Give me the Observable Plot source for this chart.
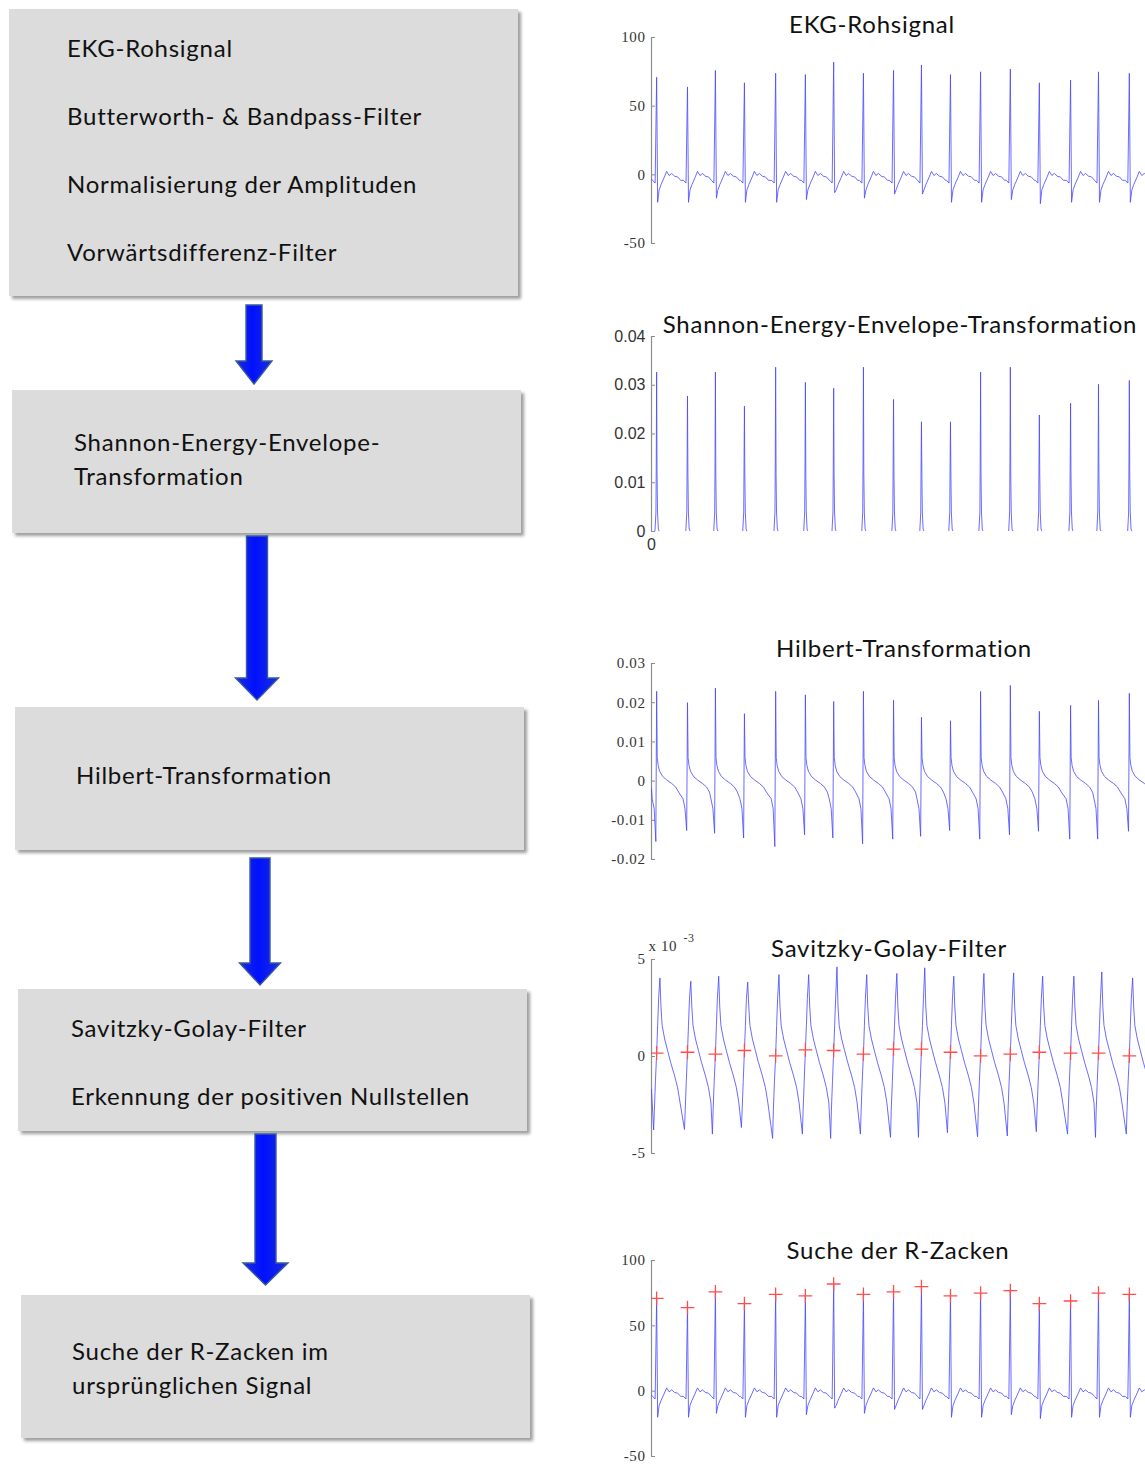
<!DOCTYPE html>
<html>
<head>
<meta charset="utf-8">
<script src="https://cdn.jsdelivr.net/npm/d3@7"></script>
<script src="https://cdn.jsdelivr.net/npm/@observablehq/plot@0.6"></script>
<style>
  html, body { margin: 0; padding: 0; background: #fff; }
  #page { position: relative; width: 1145px; height: 1466px; overflow: hidden; font-family: Lato, "Open Sans", sans-serif; }
  .box { position: absolute; background: #dcdcdc; box-shadow: 3px 3px 3px rgba(0,0,0,0.38); }
  .btxt { position: absolute; font-size: 24px; letter-spacing: 0.75px; color: #111; white-space: nowrap; line-height: 1; transform: translateY(-50%); }
  .title { position: absolute; font-size: 24px; letter-spacing: 0.75px; color: #111; white-space: nowrap; line-height: 1; transform: translate(-50%, -50%); z-index: 3; }
  .chart { position: absolute; left: 590px; }
  .serif text { letter-spacing: 0.6px; }
</style>
</head>
<body>
<div id="page"></div>
<script>
// ---------------- DATA ----------------
const boxLines = [
  ["EKG-Rohsignal", "Butterworth- & Bandpass-Filter", "Normalisierung der Amplituden", "Vorwärtsdifferenz-Filter"],
  ["Shannon-Energy-Envelope-", "Transformation"],
  ["Hilbert-Transformation"],
  ["Savitzky-Golay-Filter", "Erkennung der positiven Nullstellen"],
  ["Suche der R-Zacken im", "ursprünglichen Signal"]
];
const chartTitles = ["EKG-Rohsignal", "Shannon-Energy-Envelope-Transformation", "Hilbert-Transformation", "Savitzky-Golay-Filter", "Suche der R-Zacken"];

// beat (R-peak) times in seconds
const beatTimes = [0.14, 0.98, 1.74, 2.53, 3.38, 4.19, 4.96, 5.77, 6.59, 7.35, 8.14, 8.96, 9.77, 10.56, 11.41, 12.17, 13.01];
// raw ECG: R-peak and S-dip amplitudes
const rPeaks = [71, 64, 76, 67, 74, 73, 82, 74, 76, 80, 73, 75, 77, 67, 69, 75, 74];
const sDips = [-20, -20, -17, -20, -20, -18, -13, -17, -14, -14, -20, -20, -18, -21, -20, -20, -20];
// Shannon energy envelope peaks
const shannonPeaks = [0.0327, 0.0278, 0.0327, 0.0257, 0.0337, 0.0306, 0.0294, 0.0337, 0.0271, 0.0225, 0.0225, 0.0327, 0.0337, 0.0239, 0.0263, 0.0302, 0.0310];
// Hilbert transform peaks / minima
const hilbertPeaks = [0.0229, 0.0200, 0.0237, 0.0172, 0.0229, 0.0220, 0.0203, 0.0229, 0.0206, 0.0163, 0.0154, 0.0229, 0.0244, 0.0178, 0.0193, 0.0206, 0.0224];
const hilbertMins = [-0.0154, -0.0126, -0.0133, -0.0145, -0.0167, -0.0137, -0.0145, -0.0160, -0.0148, -0.0141, -0.0126, -0.0148, -0.0137, -0.0128, -0.0148, -0.0148, -0.0128];
// Savitzky-Golay output (x 10^-3): peaks, minima, detected positive zero crossings
const sgPeaks = [4.05, 3.88, 4.14, 3.83, 4.22, 4.22, 4.62, 4.22, 4.28, 4.57, 4.14, 4.28, 4.31, 4.14, 4.14, 4.36, 4.05];
const sgMins = [-3.79, -3.76, -4.0, -3.66, -4.22, -4.0, -4.22, -4.0, -4.17, -4.17, -3.93, -4.14, -4.1, -3.88, -4.0, -4.17, -4.0];
const sgZeros = [0.17, 0.22, 0.12, 0.31, 0.03, 0.34, 0.31, 0.12, 0.38, 0.38, 0.22, 0.03, 0.12, 0.22, 0.17, 0.17, 0.03];

// per-beat wave shapes: [offset from R (s), value or per-beat key]
const ecgShape = [[-0.109, -4], [-0.041, -6], [0, "peak"], [0.027, "dip"], [0.068, -11], [0.122, -7], [0.204, -2], [0.272, 2.5], [0.340, -0.5], [0.408, 1], [0.490, -1], [0.571, -1.5], [0.653, -4]];
const shannonShape = [[-0.046, 0], [-0.019, 0.004], [-0.011, 0.013], [0, "peak"], [0.011, 0.012], [0.024, 0.004], [0.046, 0.0005], [0.071, 0]];
const hilbertShape = [[-0.122, -0.0045], [-0.068, -0.007], [-0.022, "min"], [0, "peak"], [0.016, 0.006], [0.041, 0.004], [0.082, 0.0025], [0.163, 0.0012], [0.272, 0.0003], [0.408, -0.0006], [0.517, -0.0015], [0.598, -0.0028]];
const sgShape = [[-0.082, "min"], [-0.063, -2.8], [-0.033, -1.3], [0, "zero"], [0.027, 1.6], [0.054, 3.0], [0.090, "peak"], [0.117, 2.6], [0.150, 1.6], [0.218, 0.9], [0.299, 0.3], [0.381, -0.3], [0.490, -1.0], [0.571, -1.6], [0.639, -2.4]];
const startValues = {ecg: -3, shannon: 0, hilbert: -0.002, sg: -1.7};

// ---------------- BUILD SERIES ----------------
function assemble(start, shape, refs) {
  const pts = [{t: 0, v: start}];
  beatTimes.forEach((tb, i) => {
    const nextStart = i + 1 < beatTimes.length ? beatTimes[i + 1] + shape[0][0] : Infinity;
    for (const [off, val] of shape) {
      const t = tb + off;
      if (t >= nextStart) break;
      if (t <= pts[pts.length - 1].t) continue;
      pts.push({t, v: typeof val === "string" ? refs[val][i] : val});
    }
  });
  return pts;
}
const ecg = assemble(startValues.ecg, ecgShape, {peak: rPeaks, dip: sDips});
const shannon = assemble(startValues.shannon, shannonShape, {peak: shannonPeaks});
const hilbert = assemble(startValues.hilbert, hilbertShape, {peak: hilbertPeaks, min: hilbertMins});
const sg = assemble(startValues.sg, sgShape, {peak: sgPeaks, min: sgMins, zero: sgZeros});
const rMarks = beatTimes.map((t, i) => ({t, v: rPeaks[i]}));
const zMarks = beatTimes.map((t, i) => ({t, v: sgZeros[i]}));

// ---------------- LAYOUT ----------------
const page = document.getElementById("page");

const boxes = [
  {l: 9, t: 9, w: 509, h: 287, tx: 67, ys: [48, 116, 184, 252]},
  {l: 12, t: 390, w: 509, h: 143, tx: 74, ys: [442, 476]},
  {l: 15, t: 707, w: 509, h: 143, tx: 76, ys: [775]},
  {l: 18, t: 989, w: 509, h: 142, tx: 71, ys: [1028, 1096]},
  {l: 21, t: 1295, w: 509, h: 143, tx: 72, ys: [1351, 1385]}
];
boxes.forEach((b, i) => {
  const d = document.createElement("div");
  d.className = "box";
  Object.assign(d.style, {left: b.l + "px", top: b.t + "px", width: b.w + "px", height: b.h + "px"});
  page.appendChild(d);
  boxLines[i].forEach((s, j) => {
    const t = document.createElement("div");
    t.className = "btxt";
    t.textContent = s;
    Object.assign(t.style, {left: b.tx + "px", top: b.ys[j] + "px"});
    page.appendChild(t);
  });
});

// arrows
const arrows = [
  {cx: 254, w: 8, hw: 18, y0: 305, yh: 361, yt: 384},
  {cx: 257, w: 10.5, hw: 21.5, y0: 536, yh: 678, yt: 700},
  {cx: 260, w: 10, hw: 20.5, y0: 858, yh: 963, yt: 985},
  {cx: 265.5, w: 10.5, hw: 22.5, y0: 1134, yh: 1263, yt: 1285}
];
const asvg = d3.select(page).append("svg")
  .attr("width", 560).attr("height", 1466)
  .style("position", "absolute").style("left", "0px").style("top", "0px").style("z-index", 2);
const grad = asvg.append("defs").append("linearGradient").attr("id", "ag").attr("x1", 0).attr("x2", 1).attr("y1", 0).attr("y2", 0);
grad.append("stop").attr("offset", "0%").attr("stop-color", "#1a2fd8");
grad.append("stop").attr("offset", "45%").attr("stop-color", "#0010ff");
grad.append("stop").attr("offset", "100%").attr("stop-color", "#1a2fd8");
arrows.forEach(a => {
  const pts = [[a.cx - a.w, a.y0], [a.cx + a.w, a.y0], [a.cx + a.w, a.yh], [a.cx + a.hw, a.yh], [a.cx, a.yt], [a.cx - a.hw, a.yh], [a.cx - a.w, a.yh]];
  asvg.append("polygon").attr("points", pts.map(p => p.join(",")).join(" "))
    .attr("fill", "url(#ag)").attr("stroke", "#3b5a9e").attr("stroke-width", 1.4).attr("stroke-linejoin", "miter");
});

// chart titles
const titlePos = [[872, 24], [900, 324], [904, 648], [889, 948], [898, 1250]];
chartTitles.forEach((s, i) => {
  const t = document.createElement("div");
  t.className = "title";
  t.textContent = s;
  Object.assign(t.style, {left: titlePos[i][0] + "px", top: titlePos[i][1] + "px"});
  page.appendChild(t);
});

// ---------------- CHARTS ----------------
const xDomain = [0, 13.45];
const LINE = {stroke: "#4848ff", strokeWidth: 0.9, strokeOpacity: 0.9};
const SERIF = "'Liberation Serif', 'DejaVu Serif', serif";
const SANS = "'Liberation Sans', Arial, sans-serif";

function chart({top, height, mt, mb, yDomain, ticks, fmt, font, fontSize, series, extra = [], cls = ""}) {
  const p = Plot.plot({
    width: 555, height,
    marginLeft: 61, marginRight: 0, marginTop: mt, marginBottom: mb,
    style: {fontFamily: font, fontSize: fontSize + "px", background: "transparent", overflow: "visible"},
    x: {domain: xDomain, axis: null},
    y: {domain: yDomain, axis: null},
    marks: [
      Plot.ruleX([0], {stroke: "#8c8c8c", strokeWidth: 1.2}),
      Plot.axisY(ticks, {tickSize: -4, tickPadding: 10, tickFormat: fmt, label: null, stroke: "#8c8c8c", fill: "#333", fontSize}),
      Plot.line(series, {x: "t", y: "v", ...LINE, clip: true}),
      ...extra
    ]
  });
  p.classList.add("chart");
  if (cls) p.classList.add(cls);
  p.style.top = top + "px";
  page.appendChild(p);
}

const intFmt = d => d < 0 ? "-" + Math.abs(d) : String(d);

chart({top: 27, height: 226, mt: 10, mb: 10, yDomain: [-50, 100], ticks: [-50, 0, 50, 100], fmt: intFmt,
  font: SERIF, fontSize: 15, series: ecg, cls: "serif"});

chart({top: 326, height: 235, mt: 10, mb: 30, yDomain: [0, 0.04], ticks: [0, 0.01, 0.02, 0.03, 0.04], fmt: d => d === 0 ? "0" : d.toFixed(2),
  font: SANS, fontSize: 16, series: shannon,
  extra: [Plot.axisX([0], {tickSize: 0, tickPadding: 7, label: null, fill: "#333", fontSize: 16})]});

chart({top: 653, height: 216, mt: 10, mb: 10, yDomain: [-0.02, 0.03], ticks: [-0.02, -0.01, 0, 0.01, 0.02, 0.03],
  fmt: d => Math.abs(d) < 1e-9 ? "0" : (d < 0 ? "-" + Math.abs(d).toFixed(2) : d.toFixed(2)),
  font: SERIF, fontSize: 15, series: hilbert, cls: "serif"});

chart({top: 934, height: 229, mt: 25, mb: 10, yDomain: [-5, 5], ticks: [-5, 0, 5], fmt: intFmt,
  font: SERIF, fontSize: 15, series: sg, cls: "serif",
  extra: [
    Plot.dot(zMarks, {x: "t", y: "v", symbol: "plus", r: 4.5, stroke: "#ff4d4d", strokeWidth: 1.3, clip: true}),
    Plot.text(["x 10"], {frameAnchor: "top-left", dx: -3, dy: -19, textAnchor: "start", fill: "#333", fontSize: 15}),
    Plot.text(["-3"], {frameAnchor: "top-left", dx: 32, dy: -26, textAnchor: "start", fill: "#333", fontSize: 12})
  ]});

chart({top: 1250, height: 216, mt: 10, mb: 10, yDomain: [-50, 100], ticks: [-50, 0, 50, 100], fmt: intFmt,
  font: SERIF, fontSize: 15, series: ecg, cls: "serif",
  extra: [Plot.dot(rMarks, {x: "t", y: "v", symbol: "plus", r: 4.5, stroke: "#ff4d4d", strokeWidth: 1.3, clip: true})]});
</script>
</body>
</html>
